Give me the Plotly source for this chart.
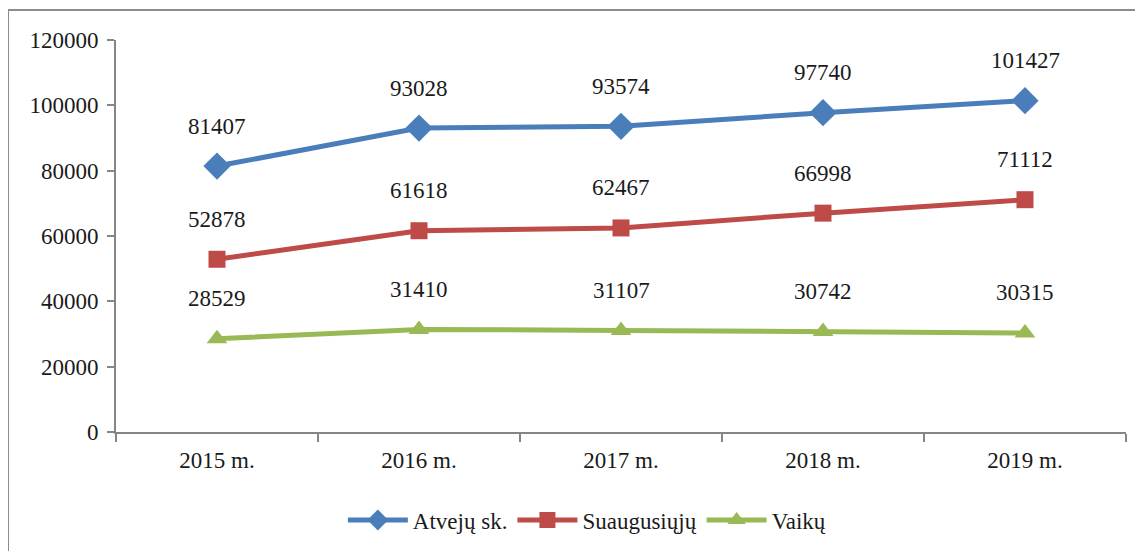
import plotly.graph_objects as go

categories = ["2015 m.", "2016 m.", "2017 m.", "2018 m.", "2019 m."]
atveju = [81407, 93028, 93574, 97740, 101427]
suaugusiuju = [52878, 61618, 62467, 66998, 71112]
vaiku = [28529, 31410, 31107, 30742, 30315]
series_names = ["Atvejų sk.", "Suaugusiųjų", "Vaikų"]
colors = ["#4a7ebb", "#be4b48", "#98b954"]
symbols = ["diamond", "square", "triangle-up"]
sizes = [21, 17, 18]

FONT = "Liberation Serif"
TXT = "#1a1a1a"

fig = go.Figure()
annotations = []
for name, vals, col, sym, sz in zip(series_names, [atveju, suaugusiuju, vaiku], colors, symbols, sizes):
    fig.add_trace(go.Scatter(
        x=categories, y=vals, name=name, mode="lines+markers",
        line=dict(color=col, width=5),
        marker=dict(symbol=sym, size=sz, color=col),
    ))
    for c, v in zip(categories, vals):
        annotations.append(dict(
            x=c, y=v, xref="x", yref="y", text=str(v), showarrow=False,
            yshift=40, font=dict(family=FONT, size=23, color=TXT),
        ))

fig.update_layout(
    width=1135, height=543,
    margin=dict(l=108, r=17, t=32, b=119, autoexpand=False),
    paper_bgcolor="white", plot_bgcolor="white",
    font=dict(family=FONT, size=23, color=TXT),
    annotations=annotations,
    showlegend=True,
    legend=dict(orientation="h", xref="container", x=0.51, xanchor="center",
                yref="container", y=0.057, yanchor="middle",
                itemwidth=60, font=dict(family=FONT, size=23, color=TXT),
                tracegroupgap=0, itemclick=False),
    shapes=[dict(type="rect", xref="paper", yref="paper",
                 x0=-0.1069, x1=1.05, y0=-0.4, y1=1.0765,
                 line=dict(color="#8c8c8c", width=2), layer="below")],
)
fig.update_xaxes(
    type="category", range=[-0.5, 4.5], showgrid=False, showline=True,
    linecolor="#868686", linewidth=2, ticks="outside", tickson="boundaries",
    ticklen=8, tickcolor="#868686", tickwidth=2, automargin=False,
    ticklabelstandoff=6,
    tickfont=dict(family=FONT, size=23, color=TXT),
)
fig.update_yaxes(
    range=[0, 120000], dtick=20000, tickformat="d", showgrid=False, showline=True,
    linecolor="#868686", linewidth=2, ticks="outside", ticklen=7,
    tickcolor="#868686", tickwidth=2, zeroline=False, automargin=False,
    ticklabelstandoff=4,
    tickfont=dict(family=FONT, size=23, color=TXT),
)
fig.write_html("out.html")
